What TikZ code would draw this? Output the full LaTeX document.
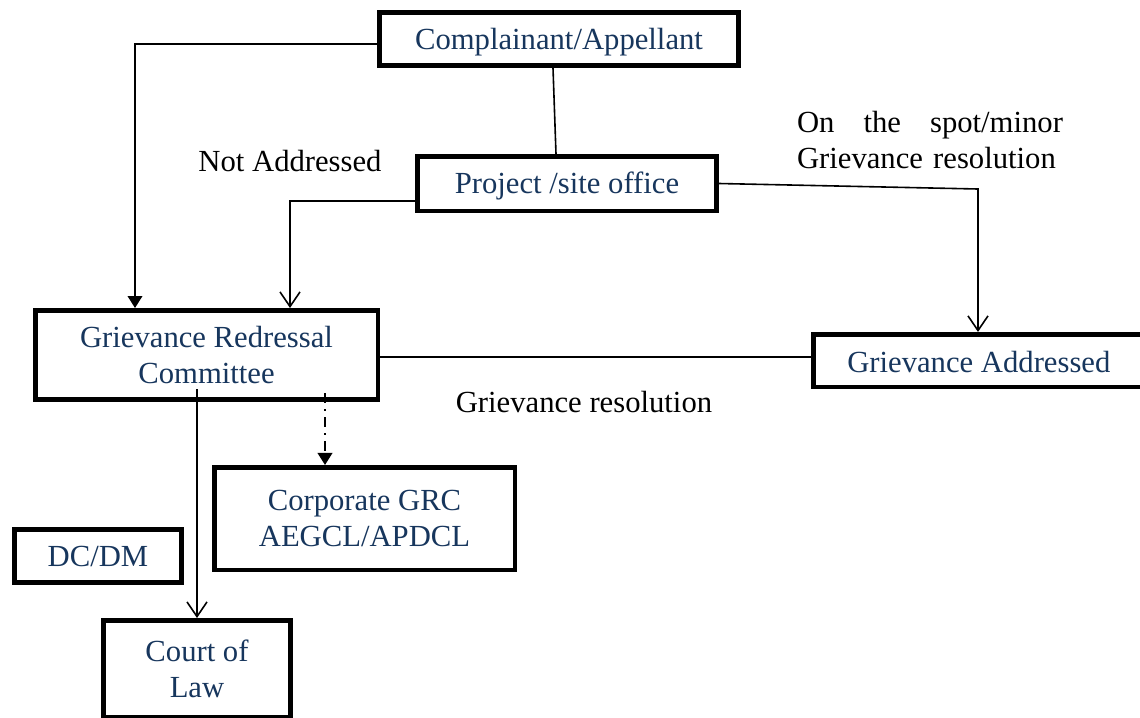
\documentclass[tikz,border=0pt]{standalone}
\usepackage{fontspec}
\setmainfont{Liberation Serif}
\usetikzlibrary{arrows.meta}
\definecolor{navy}{RGB}{23,54,93}
\begin{document}
\begin{tikzpicture}[x=0.75pt,y=-0.75pt,
  box/.style={draw=black, line width=3.4pt, rectangle, inner sep=0pt, text=navy, align=center, font=\fontsize{23}{26.6}\selectfont},
  lbl/.style={text=black, inner sep=0pt, font=\fontsize{23}{26.6}\selectfont},
  conn/.style={draw=black, line width=1.2pt},
  openarr/.style={-{Straight Barb[length=11pt,width=15pt,line width=1.2pt]}},
  fillarr/.style={-{Triangle[length=9pt,width=11pt]}}
]
\useasboundingbox (0,0) rectangle (1140,718);
\clip (0,0) rectangle (1140,718);
\fill[white] (0,0) rectangle (1140,718);

\node[box, minimum width=269.6pt, minimum height=40.1pt] (cmp) at (559,39) {\raisebox{-2.25pt}[\height][\depth]{Complainant/Appellant}};
\node[box, minimum width=224.6pt, minimum height=40.9pt] (prj) at (567,183.5) {\raisebox{-1.5pt}[\height][\depth]{Project /site office}};
\node[box, minimum width=256.9pt, minimum height=67.1pt] (grc) at (206.5,355) {Grievance Redressal\\Committee};
\node[box, minimum width=262pt, minimum height=39.4pt, anchor=west] (gad) at (811.25,360.5) {\hspace*{-14pt}\raisebox{-1pt}[\height][\depth]{Grievance Addressed}};
\node[box, minimum width=225.4pt, minimum height=76.9pt] (corp) at (364.5,518.5) {Corporate GRC\\AEGCL/APDCL};
\node[box, minimum width=125.6pt, minimum height=40.1pt] (dcdm) at (98,556) {DC/DM};
\node[box, minimum width=140.6pt, minimum height=73.1pt] (court) at (197,669) {Court of\\Law};

\node[lbl] (na) at (290,161) {Not Addressed};
\node[lbl, text width=199.5pt, align=left] (spot) at (930,140) {\hbox to 199.5pt{On\hfill the\hfill spot/minor}\\Grievance resolution};
\node[lbl] (gr) at (584,402) {Grievance resolution};

\coordinate (dd) at (325,393);
\coordinate (ga) at (978,189);

\draw[conn, fillarr] (cmp.west |- 0,44) -| (grc.north -| 135,0);
\draw[conn] (cmp.south -| 553,0) -- (prj.north -| 556,0);
\draw[conn, openarr] (prj.west |- 0,201) -| (grc.north -| 290,0);
\draw[conn, openarr] (prj.east) -- (ga) -- (ga |- gad.north);
\draw[conn] (grc.east |- 0,357) -- (gad.west |- 0,357);
\draw[conn, openarr] (court.north |- 0,389) -- (court.north);
\draw[conn, fillarr, dash pattern=on 7.5pt off 4.5pt on 1.5pt off 4.5pt] (dd) -- (dd |- corp.north);
\end{tikzpicture}
\end{document}
